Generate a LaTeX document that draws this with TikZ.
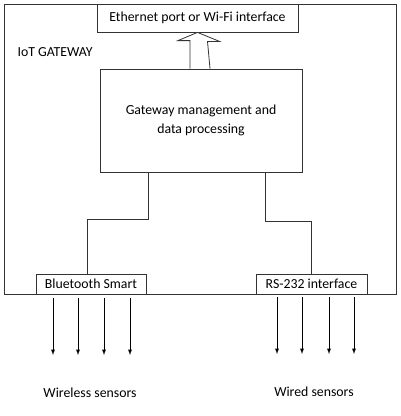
\documentclass[tikz,border=0pt]{standalone}
\usepackage{fontspec}
\setmainfont{Carlito}
\usetikzlibrary{positioning, calc}

\tikzset{
  blk/.style={draw=black!80, line width=0.8pt, inner sep=0pt, align=center, font=\fontsize{13.8}{19}\selectfont},
  wire/.style={draw=black!80, line width=0.8pt},
  sensor/.style={draw=black, line width=0.9pt, -latex},
  lbl/.style={font=\fontsize{13.8}{16}\selectfont}
}

\begin{document}
\begin{tikzpicture}[x=1pt, y=-1pt]
    \useasboundingbox (0,0) rectangle (400,416);

    % Draw the gateway frame
    \draw[wire] (4,4) rectangle (396,294);
    \node[lbl, anchor=west] (iot) at (14,52) {IoT GATEWAY};

    % Draw the blocks
    \node[blk, fill=white, minimum width=201pt, minimum height=28pt] (eth) at (197.5,18) {Ethernet port or Wi-Fi interface};
    \node[blk, minimum width=202pt, minimum height=103pt] (gw) at (201,120.5) {Gateway management and\\data processing};
    \node[blk, fill=white, minimum width=110pt, minimum height=20pt] (bt) at (91,284) {Bluetooth Smart};
    \node[blk, fill=white, minimum width=111pt, minimum height=20pt] (rs) at (311.5,284) {RS-232 interface};

    % Draw the block arrow from gw up to eth
    \draw[wire, fill=white] ($(gw.north)+(-11,0)$) -- ++(0,-28) -- ++(-12,0) -- (eth.south) -- ++(22,9) -- ++(-12,0) -- ($(gw.north)+(9,0)$);

    % Draw the links to the interfaces
    \draw[wire] ($(gw.south west)+(49,0)$) -- ++(0,47) -| ($(bt.north)+(-4,0)$);
    \draw[wire] ($(gw.south east)+(-37,0)$) -- ++(0,49) -| (rs.north);

    % Draw the sensor arrows
    \foreach \x in {53,78,104,130}
        \draw[sensor] (\x,298) -- (\x,355);
    \foreach \x in {277,302,329,354}
        \draw[sensor] (\x,297) -- (\x,354);

    \node[lbl] (wless) at (90,393) {Wireless sensors};
    \node[lbl] (wired) at (314,392) {Wired sensors};
\end{tikzpicture}
\end{document}
